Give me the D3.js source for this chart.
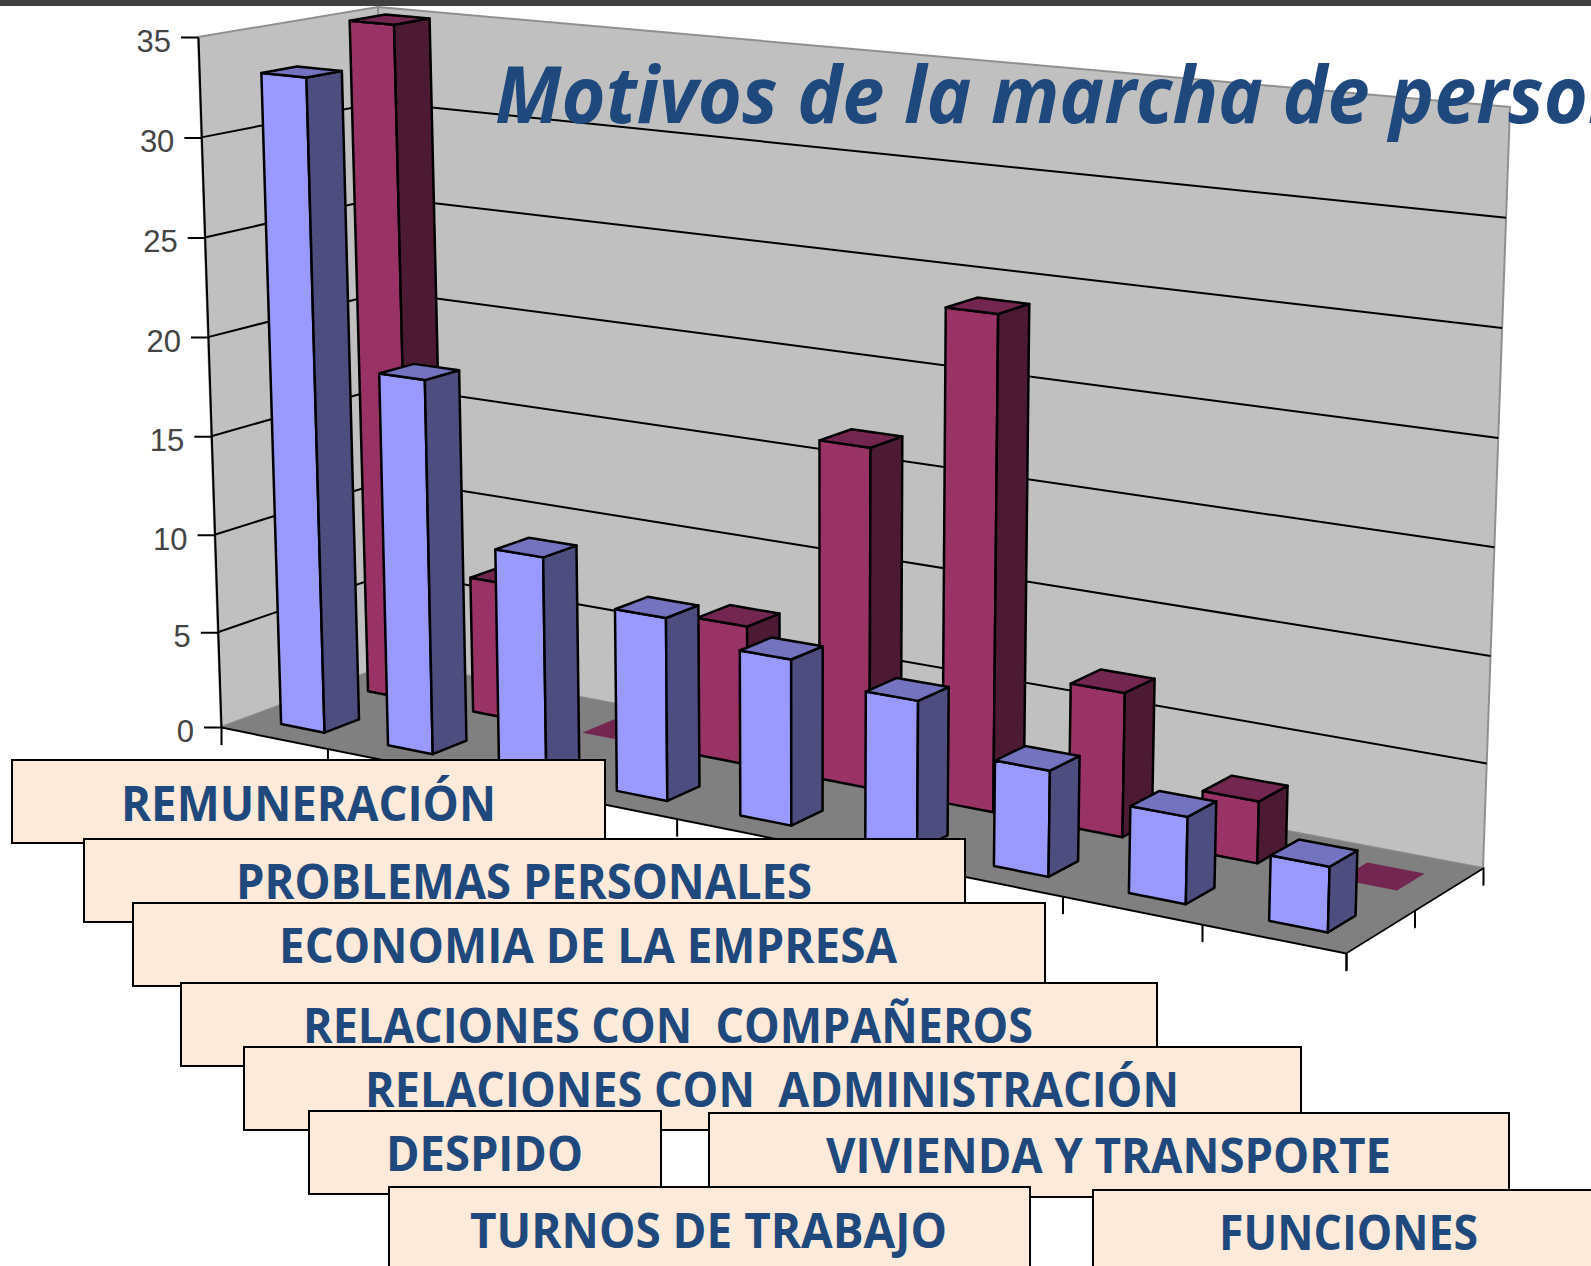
<!doctype HTML>
<html>
<head>
    <meta charset="utf-8">
    <script src="https://d3js.org/d3.v7.min.js"></script>
    <style>
        body { margin: 0; background: #fff; overflow: hidden; }
        text { white-space: pre; }
    </style>
</head>
<body>
<script>
    // values
    var categories = ["REMUNERACIÓN", "PROBLEMAS PERSONALES", "ECONOMIA DE LA EMPRESA",
        "RELACIONES CON  COMPAÑEROS", "RELACIONES CON  ADMINISTRACIÓN", "DESPIDO",
        "TURNOS DE TRABAJO", "VIVIENDA Y TRANSPORTE", "FUNCIONES"];
    var frontValues = [33.15, 18.85, 11, 9.05, 8.1, 7.2, 5.05, 4.1, 3.05];
    var backValues = [35, 7.1, 0, 7.05, 16.8, 24, 7, 3, 0];
    var yTicks = [0, 5, 10, 15, 20, 25, 30, 35];
    // where the category ticks fall along the floor, the perspective spreads them out
    var tickFractions = [0, 0.0946, 0.192, 0.295, 0.405, 0.516, 0.629, 0.748, 0.872, 1];

    var canvasWidth = 1591;
    var canvasHeight = 1266;

    var svg = d3.select("body").append("svg")
        .attr("width", canvasWidth)
        .attr("height", canvasHeight);

    svg.append("rect").attr("width", canvasWidth).attr("height", 6).attr("fill", "#404040");

    // corners of the 3d box as they land on the page
    var floorFL = [221, 727], floorFR = [1346, 953], floorBR = [1483, 868], floorBL = [396, 662];
    var topFL = [198, 37], topFR = [1368, 150], topBR = [1510, 107], topBL = [378, 7];

    var nCat = categories.length;
    var xFrac = d3.scaleLinear().domain(d3.range(nCat + 1)).range(tickFractions);
    var depthFrac = d3.scaleLinear().domain([0, 2]).range([0, 1]);
    var yFrac = d3.scalePow().exponent(1.02).domain([0, 35]).range([0, 1]);

    function lerp(a, b, t) {
        return [a[0] + (b[0] - a[0]) * t, a[1] + (b[1] - a[1]) * t];
    }

    // x in category units, z in series units, y in chart value
    function project(x, z, y) {
        var u = xFrac(x), v = depthFrac(z), w = yFrac(y);
        var bottom = lerp(lerp(floorFL, floorFR, u), lerp(floorBL, floorBR, u), v);
        var top = lerp(lerp(topFL, topFR, u), lerp(topBL, topBR, u), v);
        return lerp(bottom, top, w);
    }

    var path = d3.line();
    function face(g, pts, fill, stroke, sw) {
        g.append("path")
            .attr("d", path(pts) + "Z")
            .attr("fill", fill)
            .attr("stroke", stroke || "#000")
            .attr("stroke-width", sw || 2.5)
            .attr("stroke-linejoin", "round");
    }

    var chart = svg.append("g");

    // walls and floor
    face(chart, [project(0, 0, 0), project(0, 2, 0), project(0, 2, 35), project(0, 0, 35)], "#c0c0c0", "#909090", 2);
    face(chart, [project(0, 2, 0), project(nCat, 2, 0), project(nCat, 2, 35), project(0, 2, 35)], "#c0c0c0", "#909090", 2);
    face(chart, [project(0, 0, 0), project(nCat, 0, 0), project(nCat, 2, 0), project(0, 2, 0)], "#808080", "none");

    // gridlines
    yTicks.filter(function(d) { return d > 0 && d < 35; }).forEach(function(d) {
        chart.append("path")
            .attr("d", path([project(0, 0, d), project(0, 2, d), project(nCat, 2, d)]))
            .attr("fill", "none")
            .attr("stroke", "#000")
            .attr("stroke-width", 2);
    });

    // y axis, skewed so it follows the slanted wall edge
    var yScale = d3.scalePow().exponent(1.02).domain([0, 35]).range([floorFL[1], topFL[1]]);
    var lean = (floorFL[0] - topFL[0]) / (floorFL[1] - topFL[1]);
    var skewX = Math.atan(lean) * 180 / Math.PI;
    var yAxisG = chart.append("g")
        .attr("transform", "translate(" + (topFL[0] - lean * topFL[1]) + ",0) skewX(" + skewX + ")")
        .call(d3.axisLeft(yScale).tickValues(yTicks).tickSize(17).tickSizeOuter(0).tickPadding(10));
    yAxisG.select(".domain").attr("stroke", "#000").attr("stroke-width", 2);
    yAxisG.selectAll(".tick line").attr("stroke", "#000").attr("stroke-width", 2);
    yAxisG.selectAll(".tick text")
        .attr("transform", "skewX(" + (-skewX) + ")")
        .attr("dy", "0.46em")
        .attr("fill", "#444")
        .style("font-family", "'Liberation Sans'")
        .style("font-size", "31px");

    // category ticks along the front edge of the floor
    var frontLen = floorFR[0] - floorFL[0];
    var xPx = d3.scaleLinear().domain(d3.range(nCat + 1)).range(tickFractions.map(function(f) { return f * frontLen; }));
    var frontAngle = Math.atan((floorFR[1] - floorFL[1]) / frontLen) * 180 / Math.PI;
    var xAxisG = chart.append("g")
        .attr("transform", "translate(" + floorFL[0] + "," + floorFL[1] + ") skewY(" + frontAngle + ")")
        .call(d3.axisBottom(xPx).tickValues(d3.range(nCat + 1)).tickSize(18).tickSizeOuter(0).tickFormat(""));
    xAxisG.selectAll(".domain, .tick line").attr("stroke", "#000").attr("stroke-width", 2);

    // series ticks along the right edge of the floor
    var sideLen = floorBR[0] - floorFR[0];
    var zPx = d3.scaleLinear().domain([0, 2]).range([0, sideLen]);
    var sideAngle = Math.atan((floorBR[1] - floorFR[1]) / sideLen) * 180 / Math.PI;
    var zAxisG = chart.append("g")
        .attr("transform", "translate(" + floorFR[0] + "," + floorFR[1] + ") skewY(" + sideAngle + ")")
        .call(d3.axisBottom(zPx).tickValues([0, 1, 2]).tickSize(18).tickSizeOuter(0).tickFormat(""));
    zAxisG.selectAll(".domain, .tick line").attr("stroke", "#000").attr("stroke-width", 2);

    // bars, back row first
    var barStart = 0.32, barEnd = 0.73;
    function drawBars(values, z0, z1, colors) {
        var g = chart.append("g");
        values.forEach(function(d, i) {
            var x0 = i + barStart, x1 = i + barEnd;
            if (d > 0) {
                face(g, [project(x0, z0, 0), project(x1, z0, 0), project(x1, z0, d), project(x0, z0, d)], colors[0]);
                face(g, [project(x1, z0, 0), project(x1, z1, 0), project(x1, z1, d), project(x1, z0, d)], colors[1]);
            }
            face(g, [project(x0, z0, d), project(x1, z0, d), project(x1, z1, d), project(x0, z1, d)], colors[2], d > 0 ? "#000" : "none");
        });
    }
    drawBars(backValues, 1.3, 1.7, ["#993366", "#4d1a33", "#732650"]);
    drawBars(frontValues, 0.3, 0.7, ["#9999ff", "#4d4d80", "#7373bf"]);

    // title, runs off the page like the original
    svg.append("text")
        .attr("x", 495)
        .attr("y", 123)
        .attr("textLength", 1206)
        .attr("lengthAdjust", "spacingAndGlyphs")
        .attr("fill", "#1f497d")
        .style("font-family", "'Open Sans'")
        .style("font-weight", 700)
        .style("font-style", "italic")
        .style("font-size", "78px")
        .text("Motivos de la marcha de personal");

    // label boxes, in paint order
    var boxes = [
        { c: 0, x: 12, y: 760, r: 605, b: 843, tx: 121, tr: 496, base: 821 },
        { c: 1, x: 84, y: 839, r: 965, b: 922, tx: 236, tr: 812, base: 899 },
        { c: 2, x: 133, y: 903, r: 1045, b: 986, tx: 279, tr: 897, base: 963 },
        { c: 3, x: 181, y: 983, r: 1157, b: 1066, tx: 303, tr: 1033, base: 1043 },
        { c: 4, x: 244, y: 1047, r: 1301, b: 1130, tx: 365, tr: 1179, base: 1107 },
        { c: 7, x: 709, y: 1113, r: 1509, b: 1197, tx: 826, tr: 1391, base: 1173 },
        { c: 5, x: 309, y: 1111, r: 661, b: 1194, tx: 386, tr: 583, base: 1171 },
        { c: 6, x: 389, y: 1187, r: 1030, b: 1280, tx: 470, tr: 947, base: 1248 },
        { c: 8, x: 1093, y: 1190, r: 1600, b: 1280, tx: 1219, tr: 1478, base: 1250 }
    ];

    var boxG = svg.selectAll(".box").data(boxes).enter().append("g").attr("class", "box");
    boxG.append("rect")
        .attr("x", function(d) { return d.x; })
        .attr("y", function(d) { return d.y; })
        .attr("width", function(d) { return d.r - d.x; })
        .attr("height", function(d) { return d.b - d.y; })
        .attr("fill", "#fdeada")
        .attr("stroke", "#000")
        .attr("stroke-width", 2);
    boxG.append("text")
        .attr("x", function(d) { return d.tx; })
        .attr("y", function(d) { return d.base; })
        .attr("textLength", function(d) { return d.tr - d.tx; })
        .attr("lengthAdjust", "spacingAndGlyphs")
        .attr("fill", "#1f497d")
        .style("font-family", "'Open Sans'")
        .style("font-weight", 700)
        .style("font-size", "49px")
        .text(function(d) { return categories[d.c]; });
</script>
</body>
</html>
